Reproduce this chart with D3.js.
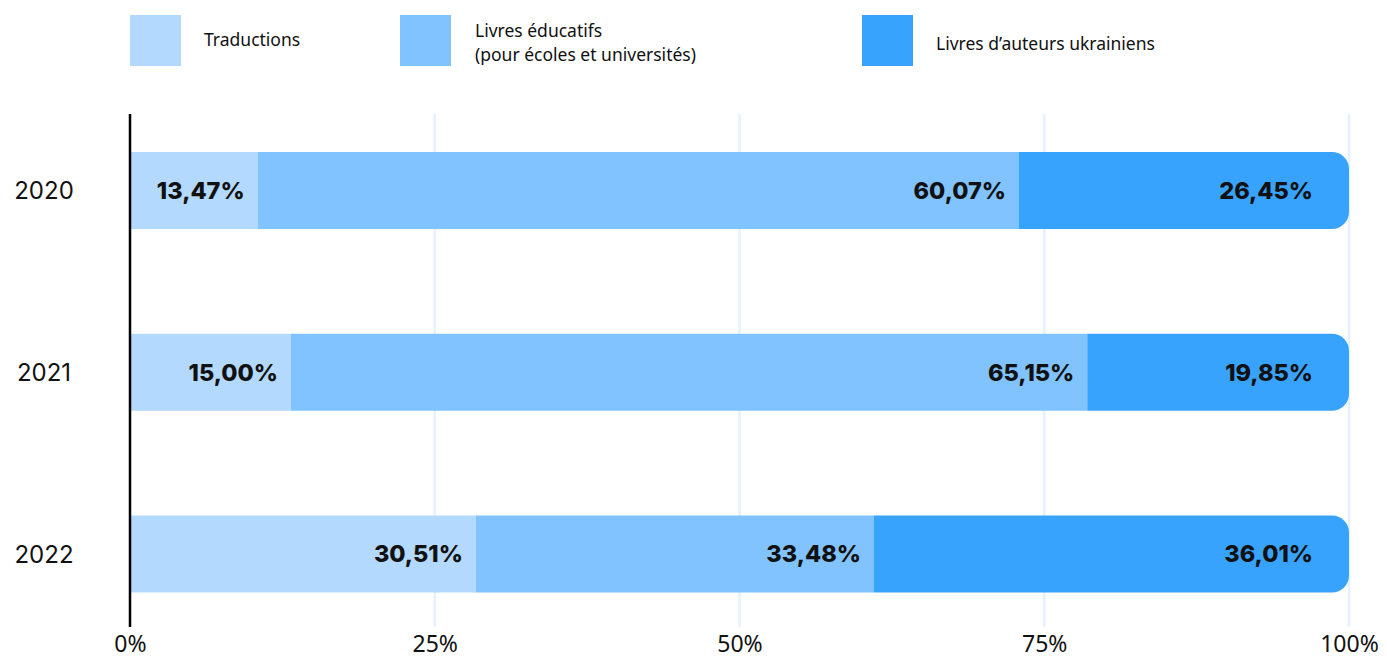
<!DOCTYPE html>
<html>
<head>
<meta charset="utf-8">
<script src="https://cdn.jsdelivr.net/npm/d3@7"></script>
<style>
  body { margin: 0; background: #fff; }
  .tick text { font-family: "Noto Sans", sans-serif; }
</style>
</head>
<body>
<div class="chart"></div>
<script>
var svgWidth = 1387;
var svgHeight = 660;

// Data
var years = ["2020", "2021", "2022"];
var seriesNames = ["Traductions", "Livres éducatifs|(pour écoles et universités)", "Livres d’auteurs ukrainiens"];
var seriesColors = ["#b3d9fe", "#80c3fe", "#38a3fd"];

// bar lengths as drawn in the picture (they don't quite match the printed numbers)
var traductions = [10.47, 13.21, 28.38];
var educatifs = [62.46, 65.32, 32.65];
var auteurs = [27.07, 21.47, 38.97];

// printed values
var traductionsLabels = [13.47, 15.00, 30.51];
var educatifsLabels = [60.07, 65.15, 33.48];
var auteursLabels = [26.45, 19.85, 36.01];

var tickValues = [0, 25, 50, 75, 100];

var svg = d3.select(".chart")
    .append("svg")
    .attr("width", svgWidth)
    .attr("height", svgHeight);

var x = d3.scaleLinear().domain([0, 100]).range([130, 1349]);
var y = d3.scalePoint().domain(years).range([190.5, 554]);
var barH = 77;
var radius = 17;

// Gridlines
svg.append("g").selectAll("line")
    .data(tickValues.slice(1))
    .enter()
    .append("line")
    .attr("x1", d => x(d))
    .attr("x2", d => x(d))
    .attr("y1", 114)
    .attr("y2", 627)
    .attr("stroke", "#e4f1fe")
    .attr("stroke-width", 2.5);

// Stack rows
var rows = years.map(function(yr, i) {
    return {year: yr, values: [traductions[i], educatifs[i], auteurs[i]],
            labels: [traductionsLabels[i], educatifsLabels[i], auteursLabels[i]]};
});

var fmt = d3.format(".2f");

rows.forEach(function(row) {
    var cy = y(row.year);
    var start = 0;
    row.values.forEach(function(v, k) {
        var x0 = x(start), x1 = x(start + v);
        var top = cy - barH / 2, bot = cy + barH / 2;
        if (k < row.values.length - 1) {
            svg.append("rect")
                .attr("x", x0)
                .attr("y", top)
                .attr("width", x1 - x0)
                .attr("height", barH)
                .attr("fill", seriesColors[k]);
        } else {
            // last segment: rounded right end
            var p = d3.path();
            p.moveTo(x0, top);
            p.lineTo(x1 - radius, top);
            p.arcTo(x1, top, x1, top + radius, radius);
            p.lineTo(x1, bot - radius);
            p.arcTo(x1, bot, x1 - radius, bot, radius);
            p.lineTo(x0, bot);
            p.closePath();
            svg.append("path").attr("d", p.toString()).attr("fill", seriesColors[k]);
        }
        var pad = (k === row.values.length - 1) ? 36 : 13;
        svg.append("text")
            .attr("x", x1 - pad)
            .attr("y", cy)
            .attr("dy", "0.36em")
            .attr("text-anchor", "end")
            .style("font-family", "Inter, sans-serif")
            .style("font-weight", 800)
            .style("font-size", "23.5px")
            .style("fill", "#111")
            .text(fmt(row.labels[k]).replace(".", ",") + "%");
        start += v;
    });

    // year label
    svg.append("text")
        .attr("x", 44)
        .attr("y", cy)
        .attr("dy", "0.36em")
        .attr("text-anchor", "middle")
        .style("font-family", "Inter, sans-serif")
        .style("font-size", "24px")
        .style("fill", "#111")
        .text(row.year);
});

// Vertical axis line
svg.append("line")
    .attr("x1", x(0))
    .attr("x2", x(0))
    .attr("y1", 114)
    .attr("y2", 627)
    .attr("stroke", "#000")
    .attr("stroke-width", 2.5);

// Bottom axis
var bottomAxis = d3.axisBottom(x)
    .tickValues(tickValues)
    .tickSize(0)
    .tickFormat(d => d + "%");

var axisG = svg.append("g")
    .attr("transform", "translate(0, 633)")
    .call(bottomAxis);
axisG.select(".domain").remove();
axisG.selectAll("text")
    .style("font-size", "23px")
    .style("fill", "#111");

// Legend
var legendX = [130, 400, 862];
var legend = svg.append("g");
seriesNames.forEach(function(name, k) {
    legend.append("rect")
        .attr("x", legendX[k])
        .attr("y", 15)
        .attr("width", 51)
        .attr("height", 51)
        .attr("fill", seriesColors[k]);
    var lines = name.split("|");
    var t = legend.append("text")
        .attr("x", legendX[k] + (k === 1 ? 75 : 74))
        .style("font-family", "'Noto Sans', sans-serif")
        .style("font-size", "17.5px")
        .style("fill", "#111");
    if (lines.length === 1) {
        t.attr("y", k === 0 ? 40 : 44).attr("dy", "0.36em").text(lines[0]);
    } else {
        lines.forEach(function(l, j) {
            t.append("tspan")
                .attr("x", legendX[k] + 75)
                .attr("y", 31 + j * 24)
                .attr("dy", "0.36em")
                .text(l);
        });
    }
});
</script>
</body>
</html>
